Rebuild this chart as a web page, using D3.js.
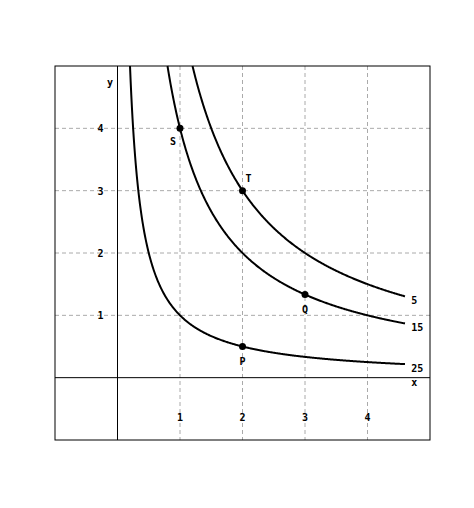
<!DOCTYPE html>
<html><head><meta charset="utf-8">
<script src="https://cdn.jsdelivr.net/npm/d3@7"></script>
<style>body{margin:0;background:#fff}</style>
</head><body>
<svg id="c" width="474" height="508"></svg>
<script>
const ticks = [1, 2, 3, 4]
const curveK = [1, 4, 6]
const curveLabels = ['25', '15', '5']
const points = [
  { name: 'S', x: 1, y: 4, dx: -7, dy: 17 },
  { name: 'T', x: 2, y: 3, dx: 6, dy: -9 },
  { name: 'Q', x: 3, y: 4 / 3, dx: 0, dy: 18 },
  { name: 'P', x: 2, y: 0.5, dx: 0, dy: 18 }
]

const svg = d3.select('#c')
const x = d3.scaleLinear().domain([-1, 5]).range([55, 430])
const y = d3.scaleLinear().domain([-1, 5]).range([440, 66])
const font = 'DejaVu Sans Mono'

// grid
svg.selectAll('.gx').data(ticks).enter().append('line')
  .attr('x1', d => x(d)).attr('x2', d => x(d)).attr('y1', y(5)).attr('y2', y(-1))
  .attr('stroke', '#aaa').attr('stroke-dasharray', '4,3')
svg.selectAll('.gy').data(ticks).enter().append('line')
  .attr('y1', d => y(d)).attr('y2', d => y(d)).attr('x1', x(-1)).attr('x2', x(5))
  .attr('stroke', '#aaa').attr('stroke-dasharray', '4,3')

// frame and axes
svg.append('rect').attr('x', x(-1)).attr('y', y(5)).attr('width', x(5) - x(-1)).attr('height', y(-1) - y(5))
  .attr('fill', 'none').attr('stroke', '#000')
svg.append('line').attr('x1', x(-1)).attr('x2', x(5)).attr('y1', y(0)).attr('y2', y(0)).attr('stroke', '#000')
svg.append('line').attr('x1', x(0)).attr('x2', x(0)).attr('y1', y(5)).attr('y2', y(-1)).attr('stroke', '#000')

const lbl = (t, px, py) => svg.append('text').attr('x', px).attr('y', py).text(t)
  .attr('font-family', font).attr('font-size', 10).attr('font-weight', 'bold').attr('text-anchor', 'middle')

ticks.forEach(t => {
  lbl(t, x(t), y(-0.7))
  lbl(t, x(-0.27), y(t) + 4)
})
lbl('y', x(-0.12), y(4.68))
lbl('x', x(4.75), y(-0.13))

// curves
const line = d3.line().x(d => x(d[0])).y(d => y(d[1]))
curveK.forEach((k, i) => {
  const xs = d3.range(k / 5, 4.6, 0.01).concat([4.6])
  svg.append('path').attr('d', line(xs.map(v => [v, k / v])))
    .attr('fill', 'none').attr('stroke', '#000').attr('stroke-width', 2)
  svg.append('text').attr('x', x(4.7)).attr('y', y(k / 4.6) + 8).text(curveLabels[i])
    .attr('font-family', font).attr('font-size', 10).attr('font-weight', 'bold')
})

// points
points.forEach(p => {
  svg.append('circle').attr('cx', x(p.x)).attr('cy', y(p.y)).attr('r', 3.5).attr('fill', '#000')
  lbl(p.name, x(p.x) + p.dx, y(p.y) + p.dy)
})
</script>
</body></html>
